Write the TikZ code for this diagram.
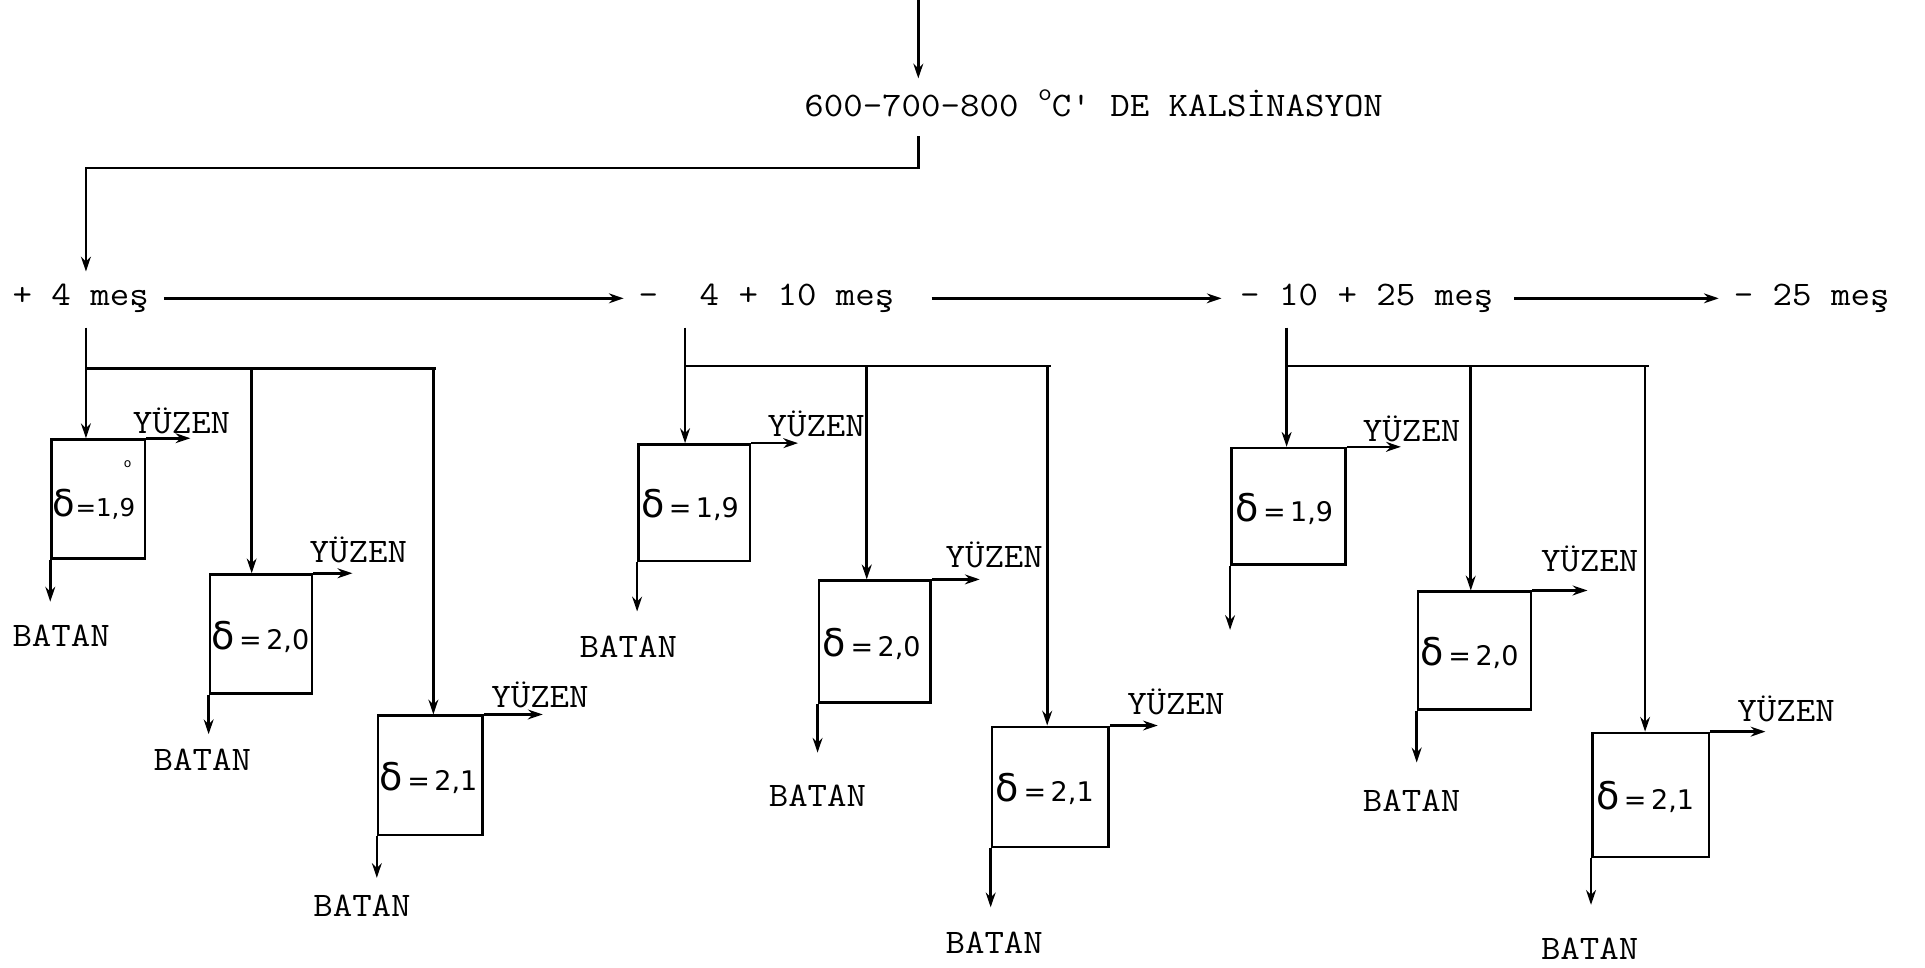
\documentclass[tikz,border=0pt]{standalone}
\usepackage{fontspec}
\setmonofont[FakeStretch=1.1]{Latin Modern Mono}
\newfontfamily\dsans{DejaVu Sans}
\usetikzlibrary{arrows.meta}
\newcommand{\dval}[1]{{\fontsize{31}{31}\selectfont δ}{\fontsize{22}{22}\selectfont\,=\,#1}}
\newcommand{\dvaltight}[1]{{\fontsize{30}{30}\selectfont δ}{\fontsize{20}{20}\selectfont=#1}}
\tikzset{
  ln/.style={line width=2.1pt},
  arr/.style={ln,-{Stealth[length=12pt,width=8pt]}},
  lbl/.style={font=\ttfamily\fontsize{28}{28}\selectfont, inner sep=0pt, anchor=west},
  sepbox/.style={draw, line width=2.1pt, inner sep=0pt},
  dens/.style={font=\dsans, inner sep=0pt, anchor=west}
}
\begin{document}
\begin{tikzpicture}[x=1pt,y=-1pt]
\useasboundingbox (0,0) rectangle (1568,788);

% ---------- top ----------
\node[lbl] (title) at (655,84) {600-700-800 \raisebox{0.45em}{\fontsize{20}{20}\selectfont o}C' DE KALSİNASYON};
\coordinate (src) at (748,0);
\coordinate (c1) at (748,137);
\coordinate (c2) at (70,137);
\draw[arr, shorten >=9pt] (src) -- (src |- title.north);

% ---------- size fractions ----------
\node[lbl] (m1) at (10,243) {+ 4 meş};
\node[lbl] (m2) at (520,243) {-\hspace{18pt} 4 + 10 meş};
\node[lbl] (m3) at (1010,243) {- 10 + 25 meş};
\node[lbl] (m4) at (1412,243) {- 25 meş};

\draw[arr, shorten <=16pt, shorten >=10pt] (title.south -| src) -- (c1) -- (c2) -- (c2 |- m1.north);

\draw[arr] ([xshift=12pt]m1.east) -- ([xshift=-12pt]m2.west);
\draw[arr] ([xshift=30pt]m2.east) -- ([xshift=-15pt]m3.west);
\draw[arr] ([xshift=17pt]m3.east) -- ([xshift=-12pt]m4.west);

% ---------- group 1 ----------
\node[sepbox, minimum width=76pt, minimum height=97pt] (A1) at (80,406.5) {};
\node[sepbox, minimum width=83pt, minimum height=97pt] (A2) at (212.5,516.5) {};
\node[sepbox, minimum width=85pt, minimum height=97pt] (A3) at (350.5,631.5) {};
\node[dens] (dA1) at ([xshift=2pt,yshift=-4pt]A1.west) {\dvaltight{1,9}};
\node[dens] (dA2) at ([xshift=2pt,yshift=-2pt]A2.west) {\dval{2,0}};
\node[dens] (dA3) at ([xshift=2pt,yshift=-2pt]A3.west) {\dval{2,1}};
\node[font=\dsans\fontsize{10}{10}\selectfont, inner sep=0pt] (oA1) at (104,378) {o};

\coordinate (fa1) at (70,300);
\coordinate (fa2) at (205,300);
\coordinate (fa3) at (353,300);
\draw[arr, shorten <=12pt] (m1.south -| fa1) -- (fa1 |- A1.north);
\draw[ln] (fa1) -- ([xshift=2pt]fa3);
\draw[arr] (fa2) -- (fa2 |- A2.north);
\draw[arr] (fa3) -- (fa3 |- A3.north);

\draw[arr] (A1.north east) -- ++(36,0);
\draw[arr] (A1.south west) -- ++(0,34);
\draw[arr] (A2.north east) -- ++(32,0);
\draw[arr] (A2.south west) -- ++(0,32);
\draw[arr] (A3.north east) -- ++(48,0);
\draw[arr] (A3.south west) -- ++(0,34);

\node[lbl] (yA1) at (108,343) {YÜZEN};
\node[lbl] (bA1) at (10,518) {BATAN};
\node[lbl] (yA2) at (252,448) {YÜZEN};
\node[lbl] (bA2) at (125,619) {BATAN};
\node[lbl] (yA3) at (400,566) {YÜZEN};
\node[lbl] (bA3) at (255,738) {BATAN};

% ---------- group 2 ----------
\node[sepbox, minimum width=91pt, minimum height=95pt] (B1) at (565.5,409.5) {};
\node[sepbox, minimum width=91pt, minimum height=99pt] (B2) at (712.5,522.5) {};
\node[sepbox, minimum width=95pt, minimum height=98pt] (B3) at (855.5,641) {};
\node[dens] (dB1) at ([xshift=3pt,yshift=-2pt]B1.west) {\dval{1,9}};
\node[dens] (dB2) at ([xshift=4pt,yshift=-2pt]B2.west) {\dval{2,0}};
\node[dens] (dB3) at ([xshift=4pt,yshift=-2pt]B3.west) {\dval{2,1}};

\coordinate (fb1) at (558,298);
\coordinate (fb2) at (706,298);
\coordinate (fb3) at (853,298);
\draw[arr, shorten <=12pt] (m2.south -| fb1) -- (fb1 |- B1.north);
\draw[ln] (fb1) -- ([xshift=3pt]fb3);
\draw[arr] (fb2) -- (fb2 |- B2.north);
\draw[arr] (fb3) -- (fb3 |- B3.north);

\draw[arr] (B1.north east) -- ++(38,0);
\draw[arr] (B1.south west) -- ++(0,40);
\draw[arr] (B2.north east) -- ++(39,0);
\draw[arr] (B2.south west) -- ++(0,40);
\draw[arr] (B3.north east) -- ++(39,0);
\draw[arr] (B3.south west) -- ++(0,48);

\node[lbl] (yB1) at (625,345) {YÜZEN};
\node[lbl] (bB1) at (472,527) {BATAN};
\node[lbl] (yB2) at (770,452) {YÜZEN};
\node[lbl] (bB2) at (626,648) {BATAN};
\node[lbl] (yB3) at (918,572) {YÜZEN};
\node[lbl] (bB3) at (770,768) {BATAN};

% ---------- group 3 ----------
\node[sepbox, minimum width=93pt, minimum height=95pt] (C1) at (1049.5,412.5) {};
\node[sepbox, minimum width=92pt, minimum height=96pt] (C2) at (1201,530) {};
\node[sepbox, minimum width=95pt, minimum height=101pt] (C3) at (1344.5,647.5) {};
\node[dens] (dC1) at ([xshift=4pt,yshift=-2pt]C1.west) {\dval{1,9}};
\node[dens] (dC2) at ([xshift=3pt,yshift=-2pt]C2.west) {\dval{2,0}};
\node[dens] (dC3) at ([xshift=4pt,yshift=-2pt]C3.west) {\dval{2,1}};

\coordinate (fc1) at (1048,298);
\coordinate (fc2) at (1198,298);
\coordinate (fc3) at (1340,298);
\draw[arr, shorten <=12pt] (m3.south -| fc1) -- (fc1 |- C1.north);
\draw[ln] (fc1) -- ([xshift=3pt]fc3);
\draw[arr] (fc2) -- (fc2 |- C2.north);
\draw[arr] (fc3) -- (fc3 |- C3.north);

\draw[arr] (C1.north east) -- ++(44,0);
\draw[arr] (C1.south west) -- ++(0,52);
\draw[arr] (C2.north east) -- ++(45,0);
\draw[arr] (C2.south west) -- ++(0,42);
\draw[arr] (C3.north east) -- ++(45,0);
\draw[arr] (C3.south west) -- ++(0,38);

\node[lbl] (yC1) at (1110,349) {YÜZEN};
\node[lbl] (yC2) at (1255,455) {YÜZEN};
\node[lbl] (bC2) at (1110,652) {BATAN};
\node[lbl] (yC3) at (1415,577) {YÜZEN};
\node[lbl] (bC3) at (1255,773) {BATAN};
\end{tikzpicture}
\end{document}
